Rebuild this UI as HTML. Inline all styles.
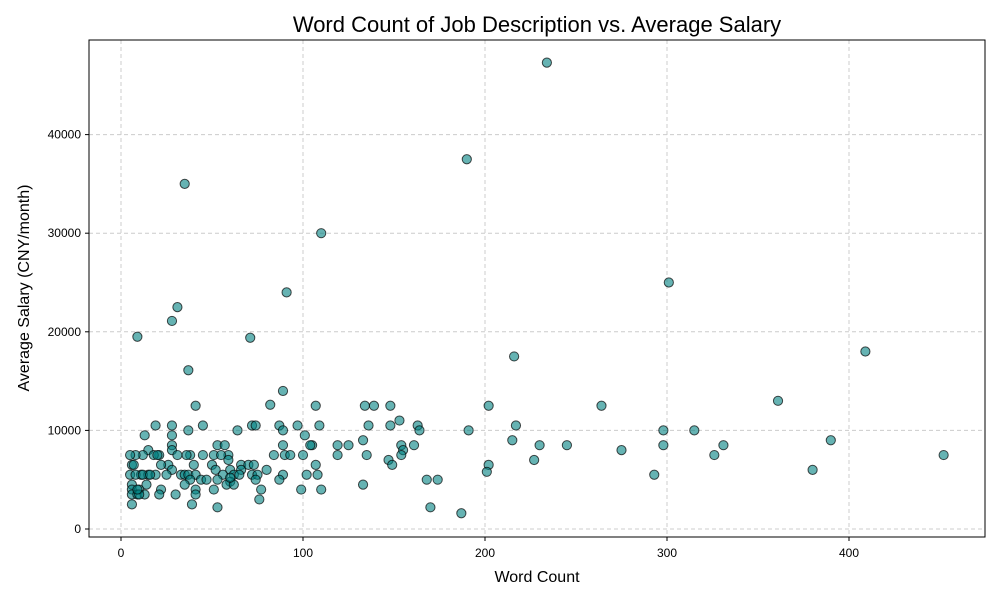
<!DOCTYPE html>
<html><head><meta charset="utf-8"><style>
body{margin:0;background:#fff;font-family:"Liberation Sans","Noto Sans CJK SC",sans-serif}
</style></head><body>
<svg id="chart" width="1000" height="600" xmlns="http://www.w3.org/2000/svg">
<rect width="1000" height="600" fill="#fff"/>
<text x="537" y="32" text-anchor="middle" font-size="22" fill="#000">Word Count of Job Description vs. Average Salary</text>
<g id="grid"></g>
<g id="axes"></g>
<g id="points"></g>
<rect x="89" y="40" width="896" height="497" fill="none" stroke="#000" stroke-width="1"/>
<text x="537" y="582" text-anchor="middle" font-size="16">Word Count</text>
<text transform="translate(29,288) rotate(-90)" text-anchor="middle" font-size="16">Average Salary (CNY/month)</text>
</svg>
<script>
const xTicks=[0,100,200,300,400];
const yTicks=[0,10000,20000,30000,40000];
const wordCounts=[234,190,35,110,301,91,31,28,9,71,409,216,37,89,361,82,41,107,134,139,148,202,264,153,163,217,148,136,109,97,87,72,74,45,28,19,13,28,37,64,89,101,164,191,298,315,390,215,133,119,125,105,104,89,53,57,28,230,245,298,331,154,161,155,275,15,28,452,326,154,135,119,100,90,84,59,51,55,45,38,36,31,21,18,12,8,5,227,147,59,26,6,22,40,50,66,70,73,107,149,202,28,52,60,66,80,380,201,5,11,15,19,25,33,35,37,41,56,62,65,72,75,89,102,108,293,38,44,47,53,60,74,87,168,174,6,14,35,58,62,133,6,10,22,41,51,77,99,110,6,9,13,21,30,41,76,6,39,53,170,187,10,8,12,7,9,16,20,60,93];
const salaries=[47300,37500,35000,30000,25000,24000,22500,21100,19500,19400,18000,17500,16100,14000,13000,12600,12500,12500,12500,12500,12500,12500,12500,11000,10500,10500,10500,10500,10500,10500,10500,10500,10500,10500,10500,10500,9500,9500,10000,10000,10000,9500,10000,10000,10000,10000,9000,9000,9000,8500,8500,8500,8500,8500,8500,8500,8500,8500,8500,8500,8500,8500,8500,8000,8000,8000,8000,7500,7500,7500,7500,7500,7500,7500,7500,7500,7500,7500,7500,7500,7500,7500,7500,7500,7500,7500,7500,7000,7000,7000,6500,6500,6500,6500,6500,6500,6500,6500,6500,6500,6500,6000,6000,6000,6000,6000,6000,5800,5500,5500,5500,5500,5500,5500,5500,5500,5500,5500,5500,5500,5500,5500,5500,5500,5500,5500,5000,5000,5000,5000,4800,5000,5000,5000,5000,4500,4500,4500,4500,4500,4500,4000,4000,4000,4000,4000,4000,4000,4000,3500,3500,3500,3500,3500,3500,3000,2500,2500,2200,2200,1600,3500,5500,5500,6500,4000,5500,7500,5200,7500];
const NS='http://www.w3.org/2000/svg';
const X=v=>121+v*1.82;
const Y=v=>529-v*0.00986;
function mk(t,a,p){const e=document.createElementNS(NS,t);for(const k in a)e.setAttribute(k,a[k]);p.appendChild(e);return e;}
const grid=document.getElementById('grid'),axes=document.getElementById('axes'),pts=document.getElementById('points');
xTicks.forEach(v=>{
 const l=mk('line',{x1:X(v),x2:X(v),y1:40,y2:537,stroke:'#ccc','stroke-dasharray':'4,3'},grid);
 
 
 mk('line',{x1:X(v),x2:X(v),y1:537,y2:541,stroke:'#000'},axes);
 const t=mk('text',{x:X(v),y:557,'text-anchor':'middle','font-size':12},axes);t.textContent=v;
 
 
});
yTicks.forEach(v=>{
 const l=mk('line',{x1:89,x2:985,y1:Y(v),y2:Y(v),stroke:'#ccc','stroke-dasharray':'4,3'},grid);
 
 
 mk('line',{x1:85,x2:89,y1:Y(v),y2:Y(v),stroke:'#000'},axes);
 const t=mk('text',{x:81,y:Y(v)+4,'text-anchor':'end','font-size':12},axes);t.textContent=v;
 
 
});
wordCounts.forEach((w,i)=>{
 const c=mk('circle',{cx:X(w),cy:Y(salaries[i]),r:4.6,fill:'rgba(0,128,128,0.6)',stroke:'rgba(0,0,0,0.7)','stroke-width':1},pts);
 
 
});
</script>
</body></html>
